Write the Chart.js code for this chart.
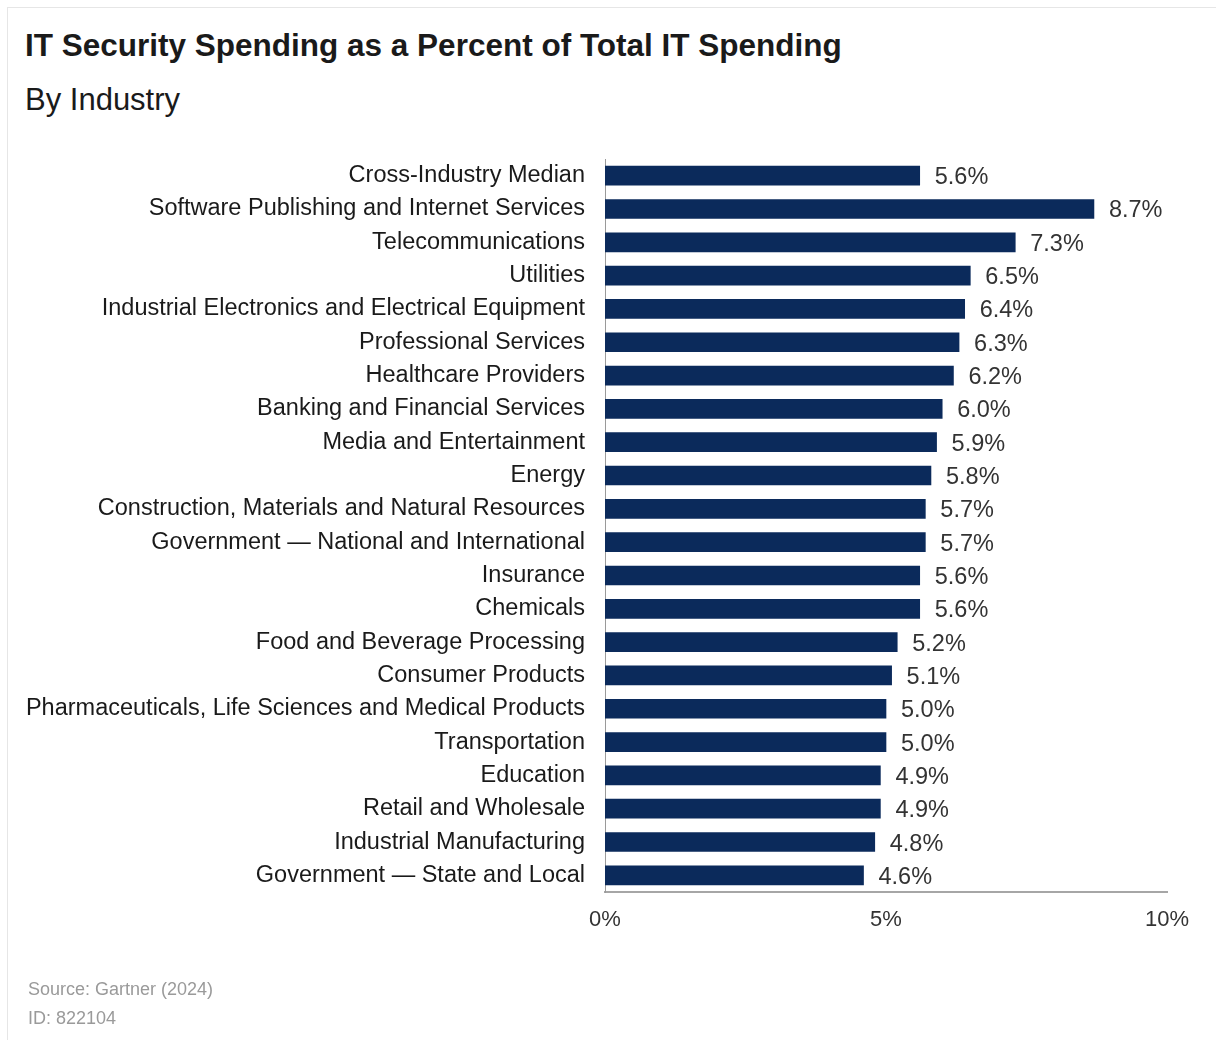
<!DOCTYPE html>
<html>
<head>
<meta charset="utf-8">
<script src="https://cdn.jsdelivr.net/npm/chart.js@4"></script>
<style>
    body { margin: 0; background: #fff; font-family: "Liberation Sans", Arial, sans-serif; }
    #wrap { position: relative; width: 1216px; height: 1040px; overflow: hidden; }
    #frame { position: absolute; left: 7px; top: 7px; width: 1230px; height: 1060px; border: 1px solid #e6e6e6; }
    #title { position: absolute; left: 25px; top: 27px; font-size: 31.5px; font-weight: bold; color: #1a1a1a; line-height: 36px; }
    #subtitle { position: absolute; left: 25px; top: 82px; font-size: 31px; color: #1a1a1a; line-height: 36px; }
    #source { position: absolute; left: 28px; top: 975px; font-size: 18px; color: #9a9a9a; line-height: 29px; }
    canvas { position: absolute; left: 0; top: 0; }
</style>
</head>
<body>
<div id="wrap">
    <div id="frame"></div>
    <div id="title">IT Security Spending as a Percent of Total IT Spending</div>
    <div id="subtitle">By Industry</div>
    <canvas id="barChart" width="1216" height="1040"></canvas>
    <div id="source">Source: Gartner (2024)<br>ID: 822104</div>
</div>
<script>
const industries = [
    'Cross-Industry Median',
    'Software Publishing and Internet Services',
    'Telecommunications',
    'Utilities',
    'Industrial Electronics and Electrical Equipment',
    'Professional Services',
    'Healthcare Providers',
    'Banking and Financial Services',
    'Media and Entertainment',
    'Energy',
    'Construction, Materials and Natural Resources',
    'Government \u2014 National and International',
    'Insurance',
    'Chemicals',
    'Food and Beverage Processing',
    'Consumer Products',
    'Pharmaceuticals, Life Sciences and Medical Products',
    'Transportation',
    'Education',
    'Retail and Wholesale',
    'Industrial Manufacturing',
    'Government \u2014 State and Local'
];
const securityShare = [5.6, 8.7, 7.3, 6.5, 6.4, 6.3, 6.2, 6.0, 5.9, 5.8, 5.7, 5.7, 5.6, 5.6, 5.2, 5.1, 5.0, 5.0, 4.9, 4.9, 4.8, 4.6];
const xTicks = [0, 5, 10];

// simple value labels at the end of each bar
const valueLabels = {
    id: 'valueLabels',
    afterDatasetsDraw(chart) {
        const ctx = chart.ctx;
        const meta = chart.getDatasetMeta(0);
        ctx.save();
        ctx.font = '23.5px "Liberation Sans", Arial, sans-serif';
        ctx.fillStyle = '#333333';
        ctx.textAlign = 'left';
        ctx.textBaseline = 'middle';
        meta.data.forEach((bar, i) => {
            ctx.fillText(securityShare[i].toFixed(1) + '%', bar.x + 15, bar.y + 2);
        });
        ctx.restore();
    }
};

const ctx = document.getElementById('barChart').getContext('2d');
new Chart(ctx, {
    type: 'bar',
    data: {
        labels: industries,
        datasets: [{
            data: securityShare,
            backgroundColor: '#0b2a5b',
            barThickness: 19
        }]
    },
    plugins: [valueLabels],
    options: {
        indexAxis: 'y',
        responsive: false,
        animation: false,
        layout: { padding: { top: 159, right: 49, left: 0, bottom: 0 } },
        plugins: {
            legend: { display: false },
            tooltip: { enabled: false }
        },
        scales: {
            x: {
                min: 0,
                max: 10,
                afterBuildTicks: scale => { scale.ticks = xTicks.map(v => ({ value: v })); },
                afterFit: scale => { scale.height = 148; },
                grid: { display: false, drawTicks: false },
                border: { color: '#a6a6a6', width: 2 },
                ticks: {
                    padding: 15,
                    color: '#333333',
                    font: { family: '"Liberation Sans", Arial, sans-serif', size: 22 },
                    callback: v => v + '%'
                }
            },
            y: {
                afterFit: scale => { scale.width = 605; },
                grid: { display: false, drawTicks: false },
                border: { color: '#9a9a9a', width: 1 },
                ticks: {
                    padding: 20,
                    color: '#1a1a1a',
                    autoSkip: false,
                    font: { family: '"Liberation Sans", Arial, sans-serif', size: 23.5 }
                }
            }
        }
    }
});
</script>
</body>
</html>
